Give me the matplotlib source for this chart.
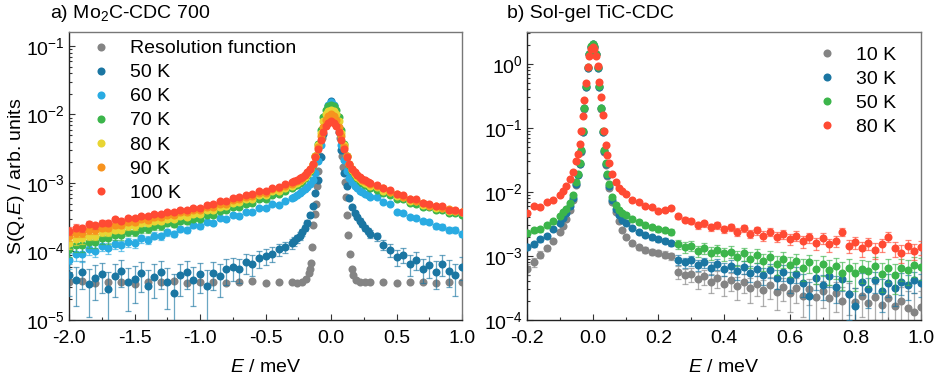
import numpy as np
import matplotlib
matplotlib.use('Agg')
import matplotlib.pyplot as plt
from matplotlib.lines import Line2D
from matplotlib.ticker import LogLocator, MultipleLocator, LogFormatterSciNotation, NullFormatter

plt.rcParams.update({
    'font.family': ['Liberation Sans', 'DejaVu Sans'],
    'mathtext.fontset': 'custom',
    'mathtext.rm': 'Liberation Sans',
    'mathtext.it': 'Liberation Sans:italic',
    'mathtext.bf': 'Liberation Sans:bold',
    'axes.unicode_minus': False,
    'font.size': 14,
})

# ---------------- Panel a: Mo2C-CDC 700 (values as log10 S) ----------------
E_a = [-2.00, -1.95, -1.90, -1.85, -1.80, -1.75, -1.70, -1.65, -1.60, -1.55,
       -1.50, -1.45, -1.40, -1.35, -1.30, -1.25, -1.20, -1.15, -1.10, -1.05,
       -1.00, -0.95, -0.90, -0.85, -0.80, -0.75, -0.70, -0.65, -0.60, -0.55,
       -0.50, -0.45, -0.40, -0.35,
       -0.30, -0.28, -0.26, -0.24, -0.22, -0.20, -0.18, -0.16, -0.14, -0.12,
       -0.10, -0.08, -0.06, -0.04, -0.02, 0.00, 0.02, 0.04, 0.06, 0.08,
       0.10, 0.12, 0.14, 0.16, 0.18, 0.20, 0.22, 0.24, 0.26, 0.28, 0.30,
       0.35, 0.40, 0.45, 0.50, 0.55, 0.60, 0.65, 0.70, 0.75, 0.80, 0.85, 0.90, 0.95, 1.00]

E_res = [-2.0, -1.9, -1.8, -1.7, -1.6, -1.5, -1.4, -1.3, -1.2, -1.1, -1.0, -0.9,
         -0.8, -0.7, -0.6, -0.5, -0.4, -0.3,
         -0.26, -0.22, -0.19, -0.17, -0.16, -0.153, -0.143, -0.135, -0.125, -0.117,
         -0.109, -0.097, -0.085, -0.07, -0.05, -0.03, -0.01, 0.01, 0.03, 0.05, 0.07,
         0.085, 0.094, 0.107, 0.114, 0.124, 0.132, 0.145, 0.158, 0.17, 0.19, 0.22, 0.26,
         0.3, 0.4, 0.5, 0.6, 0.7, 0.8, 0.9, 1.0]
log_res = [-4.45, -4.43, -4.46, -4.44, -4.45, -4.47, -4.44, -4.45, -4.43, -4.46, -4.45, -4.44,
           -4.46, -4.45, -4.43, -4.46, -4.45, -4.45,
           -4.46, -4.44, -4.40, -4.32, -4.25, -4.17, -3.93, -3.61, -3.45, -3.30,
           -3.05, -2.83, -2.60, -2.35, -2.10, -1.95, -1.88, -1.88, -1.95, -2.10, -2.35,
           -2.60, -2.76, -2.98, -3.20, -3.47, -3.76, -4.03, -4.25, -4.35, -4.42, -4.45, -4.44,
           -4.45, -4.44, -4.46, -4.45, -4.44, -4.46, -4.45, -4.44]

log_50K = [-4.35, -4.42, -4.30, -4.48, -4.38, -4.33, -4.55, -4.36, -4.28, -4.45,
           -4.40, -4.32, -4.50, -4.37, -4.30, -4.44, -4.60, -4.35, -4.30, -4.42,
           -4.33, -4.50, -4.31, -4.36, -4.26, -4.23, -4.25, -4.16, -4.18, -4.10,
           -4.07, -4.03, -3.97, -3.93,
           -3.88, -3.85, -3.81, -3.77, -3.72, -3.66, -3.58, -3.47, -3.33, -3.15,
           -2.95, -2.62, -2.28, -2.02, -1.87, -1.81, -1.87, -2.02, -2.25, -2.52,
           -2.85, -3.05, -3.22, -3.35, -3.44, -3.50, -3.55, -3.60, -3.65, -3.70, -3.74,
           -3.78, -3.90, -3.98, -4.08, -4.05, -4.18, -4.12, -4.25, -4.20, -4.30, -4.18, -4.28, -4.35, -4.22]
log_60K = [-4.12, -4.03, -4.04, -3.96, -3.99, -3.92, -3.95, -3.89, -3.91, -3.86,
           -3.88, -3.81, -3.83, -3.77, -3.78, -3.72, -3.74, -3.67, -3.68, -3.62,
           -3.63, -3.57, -3.58, -3.51, -3.53, -3.46, -3.48, -3.42, -3.43, -3.36,
           -3.37, -3.31, -3.32, -3.26,
           -3.22, -3.20, -3.18, -3.15, -3.12, -3.09, -3.06, -3.02, -2.95, -2.85,
           -2.68, -2.45, -2.20, -1.99, -1.86, -1.82, -1.86, -1.99, -2.20, -2.45,
           -2.66, -2.83, -2.93, -2.99, -3.04, -3.08, -3.11, -3.13, -3.16, -3.18, -3.20,
           -3.21, -3.28, -3.31, -3.43, -3.44, -3.50, -3.51, -3.56, -3.57, -3.63, -3.64, -3.69, -3.69, -3.74]
log_70K = [-3.97, -3.91, -3.91, -3.86, -3.86, -3.81, -3.81, -3.76, -3.76, -3.71,
           -3.71, -3.67, -3.67, -3.63, -3.63, -3.59, -3.60, -3.56, -3.56, -3.52,
           -3.52, -3.47, -3.46, -3.41, -3.40, -3.35, -3.35, -3.30, -3.29, -3.24,
           -3.23, -3.18, -3.16, -3.12,
           -3.07, -3.05, -3.03, -3.00, -2.97, -2.93, -2.89, -2.83, -2.74, -2.61,
           -2.43, -2.22, -2.04, -1.93, -1.88, -1.86, -1.88, -1.93, -2.04, -2.22,
           -2.43, -2.61, -2.74, -2.83, -2.89, -2.93, -2.97, -3.00, -3.03, -3.05, -3.08,
           -3.10, -3.15, -3.17, -3.23, -3.24, -3.29, -3.30, -3.35, -3.35, -3.40, -3.40, -3.44, -3.44, -3.47]
log_80K = [-3.87, -3.82, -3.81, -3.77, -3.77, -3.72, -3.72, -3.68, -3.68, -3.63,
           -3.63, -3.59, -3.59, -3.56, -3.56, -3.52, -3.52, -3.48, -3.49, -3.45,
           -3.45, -3.40, -3.39, -3.35, -3.34, -3.29, -3.28, -3.23, -3.23, -3.18,
           -3.17, -3.12, -3.11, -3.07,
           -3.04, -3.02, -3.00, -2.97, -2.94, -2.91, -2.87, -2.81, -2.73, -2.61,
           -2.45, -2.27, -2.10, -2.00, -1.95, -1.93, -1.95, -2.00, -2.10, -2.27,
           -2.45, -2.61, -2.73, -2.81, -2.87, -2.91, -2.94, -2.97, -3.00, -3.02, -3.05,
           -3.06, -3.12, -3.13, -3.19, -3.21, -3.26, -3.27, -3.32, -3.32, -3.37, -3.37, -3.41, -3.41, -3.43]
log_90K = [-3.78, -3.73, -3.73, -3.69, -3.69, -3.65, -3.65, -3.61, -3.61, -3.57,
           -3.57, -3.53, -3.54, -3.50, -3.50, -3.46, -3.47, -3.43, -3.43, -3.40,
           -3.40, -3.35, -3.35, -3.30, -3.30, -3.25, -3.24, -3.20, -3.19, -3.15,
           -3.14, -3.09, -3.08, -3.04,
           -3.01, -2.99, -2.97, -2.95, -2.92, -2.89, -2.85, -2.80, -2.72, -2.61,
           -2.47, -2.32, -2.18, -2.08, -2.02, -2.00, -2.02, -2.08, -2.18, -2.32,
           -2.47, -2.61, -2.72, -2.80, -2.85, -2.89, -2.92, -2.95, -2.97, -2.99, -3.02,
           -3.05, -3.08, -3.13, -3.16, -3.21, -3.23, -3.27, -3.29, -3.33, -3.34, -3.37, -3.38, -3.41, -3.42]
log_100K = [-3.70, -3.65, -3.66, -3.60, -3.62, -3.58, -3.58, -3.53, -3.55, -3.51,
            -3.51, -3.48, -3.48, -3.45, -3.45, -3.42, -3.42, -3.39, -3.39, -3.36,
            -3.36, -3.32, -3.31, -3.27, -3.26, -3.22, -3.21, -3.17, -3.16, -3.12,
            -3.11, -3.07, -3.06, -3.02,
            -2.99, -2.97, -2.95, -2.93, -2.91, -2.88, -2.84, -2.79, -2.72, -2.62,
            -2.50, -2.37, -2.26, -2.17, -2.12, -2.10, -2.12, -2.17, -2.26, -2.37,
            -2.50, -2.62, -2.72, -2.79, -2.84, -2.88, -2.91, -2.94, -2.96, -2.98, -3.00,
            -3.03, -3.08, -3.10, -3.16, -3.18, -3.23, -3.24, -3.29, -3.30, -3.34, -3.34, -3.39, -3.39, -3.42]

labels_a = ['Resolution function', '50 K', '60 K', '70 K', '80 K', '90 K', '100 K']
err_a = [None, 2.2e-5, 2.0e-5, 2.5e-5, 2.5e-5, 2.5e-5, 2.5e-5]

# ---------------- Panel b: Sol-gel TiC-CDC (values as log10 S) ----------------
E_b = [-0.20, -0.18, -0.16, -0.14, -0.12, -0.10, -0.09, -0.08, -0.07, -0.06,
       -0.050, -0.045, -0.040, -0.035, -0.030, -0.025, -0.020, -0.015, -0.010, -0.005,
       0.000, 0.005, 0.010, 0.015, 0.020, 0.025, 0.030, 0.035, 0.040, 0.045, 0.050,
       0.06, 0.07, 0.08, 0.09,
       0.10, 0.12, 0.14, 0.16, 0.18, 0.20, 0.22, 0.24, 0.26, 0.28,
       0.30, 0.32, 0.34, 0.36, 0.38, 0.40, 0.42, 0.44, 0.46, 0.48,
       0.50, 0.52, 0.54, 0.56, 0.58, 0.60, 0.62, 0.64, 0.66, 0.68,
       0.70, 0.72, 0.74, 0.76, 0.78, 0.80, 0.82, 0.84, 0.86, 0.88,
       0.90, 0.92, 0.94, 0.96, 0.98, 1.00]

log_b10K = [-3.20, -3.10, -2.98, -2.88, -2.76, -2.62, -2.53, -2.42, -2.28, -2.13,
            -1.89, -1.74, -1.57, -1.37, -1.07, -0.70, -0.36, -0.06, 0.15, 0.27,
            0.31, 0.27, 0.15, -0.06, -0.36, -0.70, -1.07, -1.37, -1.58, -1.75, -1.93,
            -2.16, -2.32, -2.46, -2.60,
            -2.70, -2.80, -2.86, -2.90, -2.93, -2.95, -2.98, -3.00, -3.25, -3.30,
            -3.28, -3.36, -3.32, -3.40, -3.35, -3.44, -3.38, -3.47, -3.40, -3.50,
            -3.44, -3.53, -3.46, -3.56, -3.48, -3.58, -3.50, -3.62, -3.52, -3.64,
            -3.55, -3.66, -3.58, -3.70, -3.60, -3.72, -3.62, -3.74, -3.64, -3.76,
            -3.66, -3.78, -3.70, -3.82, -3.88, -3.80]
log_b30K = [-2.86, -2.82, -2.74, -2.68, -2.58, -2.48, -2.41, -2.33, -2.22, -2.09,
            -1.87, -1.73, -1.56, -1.36, -1.06, -0.69, -0.36, -0.06, 0.15, 0.27,
            0.31, 0.27, 0.15, -0.06, -0.36, -0.69, -1.06, -1.36, -1.57, -1.74, -1.90,
            -2.12, -2.26, -2.36, -2.43,
            -2.48, -2.56, -2.62, -2.67, -2.71, -2.74, -2.76, -2.80, -3.06, -3.10,
            -3.07, -3.14, -3.10, -3.18, -3.12, -3.20, -3.15, -3.24, -3.17, -3.27,
            -3.20, -3.30, -3.22, -3.34, -3.25, -3.38, -3.28, -3.42, -3.62, -3.35,
            -3.45, -3.32, -3.48, -3.36, -3.60, -3.78, -3.40, -3.52, -3.38, -3.55,
            -3.42, -3.50, -3.40, -3.45, -3.38, -3.42]
log_b50K = [-2.64, -2.60, -2.58, -2.52, -2.46, -2.38, -2.32, -2.26, -2.17, -2.05,
            -1.85, -1.72, -1.55, -1.35, -1.05, -0.68, -0.35, -0.05, 0.16, 0.28,
            0.32, 0.28, 0.16, -0.05, -0.35, -0.68, -1.05, -1.35, -1.55, -1.72, -1.88,
            -2.08, -2.20, -2.28, -2.33,
            -2.36, -2.42, -2.47, -2.52, -2.55, -2.58, -2.60, -2.62, -2.82, -2.86,
            -2.84, -2.92, -2.88, -2.95, -2.90, -2.96, -2.93, -3.02, -2.96, -3.05,
            -2.99, -3.08, -3.02, -3.12, -3.05, -3.14, -3.08, -3.18, -3.10, -3.21,
            -3.13, -3.22, -3.16, -3.26, -3.18, -3.27, -3.20, -3.24, -3.15, -3.28,
            -3.19, -3.30, -3.18, -3.22, -3.14, -3.17]
log_b80K = [-2.33, -2.22, -2.24, -2.16, -2.12, -2.05, -1.98, -1.90, -1.80, -1.68,
            -1.52, -1.40, -1.25, -1.05, -0.82, -0.56, -0.30, -0.05, 0.12, 0.24,
            0.27, 0.24, 0.13, -0.03, -0.28, -0.52, -0.80, -1.05, -1.27, -1.42, -1.55,
            -1.72, -1.84, -1.93, -1.99,
            -2.03, -2.12, -2.16, -2.22, -2.24, -2.30, -2.28, -2.25, -2.38, -2.43,
            -2.46, -2.52, -2.49, -2.55, -2.52, -2.58, -2.55, -2.62, -2.57, -2.65,
            -2.60, -2.68, -2.62, -2.70, -2.66, -2.74, -2.68, -2.77, -2.71, -2.80,
            -2.72, -2.82, -2.76, -2.62, -2.84, -2.78, -2.88, -2.80, -2.90, -2.82,
            -2.70, -2.88, -2.95, -2.84, -2.92, -2.86]

labels_b = ['10 K', '30 K', '50 K', '80 K']
err_b = [1.3e-4, 1.5e-4, 2.5e-4, 3.5e-4]

# ---------------- styling ----------------
GRAY, DBLUE, LBLUE = '#848484', '#1b76a2', '#29abe2'
GREEN, YELLOW, ORANGE, RED = '#3cb54b', '#e8d533', '#f7931e', '#ff4a33'
colors_a = [GRAY, DBLUE, LBLUE, GREEN, YELLOW, ORANGE, RED]
colors_b = [GRAY, DBLUE, GREEN, RED]
MS = 5.8
FS = 14

fig = plt.figure(figsize=(9.38, 3.8), dpi=100)
axa = fig.add_axes([69 / 938, 1 - 320 / 380, 393 / 938, 288 / 380])
axb = fig.add_axes([527 / 938, 1 - 320 / 380, 394 / 938, 288 / 380])


def draw(ax, E, logv, err, color, z):
    y = 10 ** np.asarray(logv, dtype=float)
    if err is not None:
        ax.errorbar(E, y, yerr=err, fmt='none', ecolor=color, elinewidth=0.9,
                    capsize=2, capthick=0.9, alpha=0.65, zorder=z)
    ax.plot(E, y, 'o', color=color, ms=MS, mew=0, zorder=z + 0.5)


series_a = [(E_res, log_res), (E_a, log_50K), (E_a, log_60K), (E_a, log_70K),
            (E_a, log_80K), (E_a, log_90K), (E_a, log_100K)]
for i, ((E, lv), c, er) in enumerate(zip(series_a, colors_a, err_a)):
    draw(axa, E, lv, er, c, 2 + i)

series_b = [log_b10K, log_b30K, log_b50K, log_b80K]
for i, (lv, c, er) in enumerate(zip(series_b, colors_b, err_b)):
    draw(axb, E_b, lv, er, c, 2 + i)

for ax in (axa, axb):
    ax.set_yscale('log')
    ax.yaxis.set_major_locator(LogLocator(base=10, numticks=20))
    ax.yaxis.set_minor_locator(LogLocator(base=10, subs=np.arange(2, 10), numticks=20))
    ax.yaxis.set_major_formatter(LogFormatterSciNotation())
    ax.yaxis.set_minor_formatter(NullFormatter())
    ax.tick_params(which='both', direction='in', top=False, right=False, labelsize=FS,
                   width=0.8, color='#333333')
    ax.tick_params(which='major', length=4.5)
    ax.tick_params(which='minor', length=2.5)
    ax.tick_params(axis='x', pad=7)
    ax.tick_params(axis='y', pad=3)
    for s in ('left', 'bottom'):
        ax.spines[s].set_color('#222222')
        ax.spines[s].set_linewidth(1.0)
    for s in ('top', 'right'):
        ax.spines[s].set_color('#777777')
        ax.spines[s].set_linewidth(1.0)

axa.set_xlim(-2.0, 1.0)
axa.set_ylim(1e-5, 10 ** -0.796)
axa.xaxis.set_major_locator(MultipleLocator(0.5))
axa.xaxis.set_minor_locator(MultipleLocator(0.25))
axa.xaxis.set_major_formatter(matplotlib.ticker.FormatStrFormatter('%.1f'))

axb.set_xlim(-0.2, 1.0)
axb.set_ylim(1e-4, 10 ** 0.5)
axb.xaxis.set_major_locator(MultipleLocator(0.2))
axb.xaxis.set_minor_locator(MultipleLocator(0.1))
axb.xaxis.set_major_formatter(matplotlib.ticker.FormatStrFormatter('%.1f'))

h_a = [Line2D([], [], marker='o', ls='', color=c, ms=MS, mew=0) for c in colors_a]
axa.legend(h_a, labels_a, loc='upper left', bbox_to_anchor=(0.036, 1.0),
           frameon=False, handlelength=1.0, handletextpad=1.0, labelspacing=0.33,
           borderaxespad=0, fontsize=FS)
h_b = [Line2D([], [], marker='o', ls='', color=c, ms=MS, mew=0) for c in colors_b]
axb.legend(h_b, labels_b, loc='upper left', bbox_to_anchor=(0.716, 0.977),
           frameon=False, handlelength=1.0, handletextpad=1.0, labelspacing=0.33,
           borderaxespad=0, fontsize=FS)

fig.text(50 / 938, 1 - 14 / 380, 'a) Mo$_2$C-CDC 700', ha='left', va='center', fontsize=FS)
fig.text(507 / 938, 1 - 14 / 380, 'b) Sol-gel TiC-CDC', ha='left', va='center', fontsize=FS)
fig.text(265.5 / 938, 1 - 367 / 380, '$E$ / meV', ha='center', va='center', fontsize=FS)
fig.text(724 / 938, 1 - 367 / 380, '$E$ / meV', ha='center', va='center', fontsize=FS)
fig.text(17 / 938, 1 - 176 / 380, 'S(Q,$E$) / arb. units', ha='center', va='center',
         rotation=90, fontsize=FS)

fig.savefig('out.png', dpi=100)
